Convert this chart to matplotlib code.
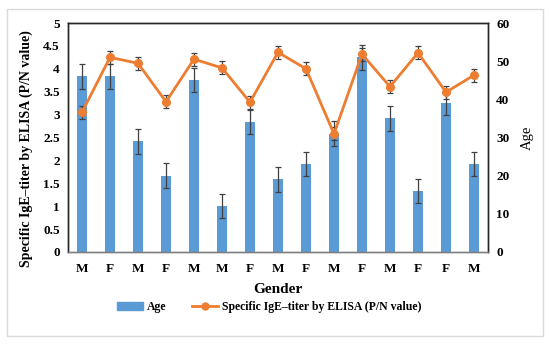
import matplotlib.pyplot as plt
from matplotlib.patches import Rectangle
from matplotlib.lines import Line2D
import numpy as np

# Data
gender = ['M', 'F', 'M', 'F', 'M', 'M', 'F', 'M', 'F', 'M', 'F', 'M', 'F', 'F', 'M']
age = [46, 46, 29, 20, 45, 12, 34, 19, 23, 31, 51, 35, 16, 39, 23]
age_err = [3.2] * 15
ige = [3.05, 4.25, 4.12, 3.28, 4.21, 4.02, 3.27, 4.36, 4.0, 2.58, 4.32, 3.61, 4.35, 3.49, 3.86]
ige_err = [0.14] * 15

blue = '#5B9BD5'
orange = '#ED7D31'
errc = '#404040'

plt.rcParams['font.family'] = ['Liberation Serif', 'DejaVu Serif']

fig = plt.figure(figsize=(5.5, 3.45), dpi=100)
fig.patches.append(Rectangle((7 / 550, 1 - 336 / 345), 536 / 550, 327 / 345,
                             transform=fig.transFigure, fill=False,
                             edgecolor='#d9d9d9', linewidth=1))

ax = fig.add_axes([68 / 550, 1 - 252 / 345, 420 / 550, 229 / 345])
ax2 = ax.twinx()
ax.set_zorder(ax2.get_zorder() + 1)
ax.patch.set_visible(False)

x = np.arange(len(gender))

# bars (Age) on the right axis
ax2.bar(x, age, width=0.38, color=blue, zorder=2)
ax2.errorbar(x, age, yerr=age_err, fmt='none', ecolor=errc, elinewidth=0.9,
             capsize=2.5, capthick=0.9, zorder=3)
ax2.set_ylim(0, 60)
ax2.set_yticks(range(0, 61, 10))
ax2.set_ylabel('Age', fontsize=10.5, labelpad=8)

# line (IgE) on the left axis
ax.errorbar(x, ige, yerr=ige_err, fmt='none', ecolor=errc, elinewidth=0.9,
            capsize=2.5, capthick=0.9, zorder=3)
ax.plot(x, ige, color=orange, linewidth=2, marker='o', markersize=5.5, zorder=4)
ax.set_ylim(0, 5)
ax.set_yticks(np.arange(0, 5.01, 0.5))
ax.set_yticklabels(['0', '0.5', '1', '1.5', '2', '2.5', '3', '3.5', '4', '4.5', '5'])
ax.set_xlim(-0.5, len(gender) - 0.5)
ax.set_xticks(x)
ax.set_xticklabels(gender, fontweight='bold')
ax.set_xlabel('Gender', fontsize=11, fontweight='bold', labelpad=6)
ax.set_ylabel('Specific IgE\u2013titer by ELISA (P/N value)', fontsize=10,
              fontweight='bold')
ax.yaxis.set_label_coords(-0.084, 0.45)

for a in (ax, ax2):
    a.tick_params(length=0, labelsize=9.5, pad=6)
    for s in a.spines.values():
        s.set_color('#262626')
        s.set_linewidth(1)
    a.spines['bottom'].set_color('#808080')
ax.tick_params(axis='x', pad=8)
for lab in ax.get_yticklabels() + ax2.get_yticklabels():
    lab.set_fontweight('bold')

handles = [Rectangle((0, 0), 1, 1, color=blue),
           Line2D([0], [0], color=orange, linewidth=2, marker='o', markersize=5)]
fig.legend(handles, ['Age', 'Specific IgE\u2013titer by ELISA (P/N value)'],
           loc='center', bbox_to_anchor=(269 / 550, 1 - 307 / 345), ncol=2,
           frameon=False, prop={'weight': 'bold', 'size': 8.5},
           handlelength=2.2, handletextpad=0.3, columnspacing=2.2)

fig.savefig('out.png', dpi=100)
